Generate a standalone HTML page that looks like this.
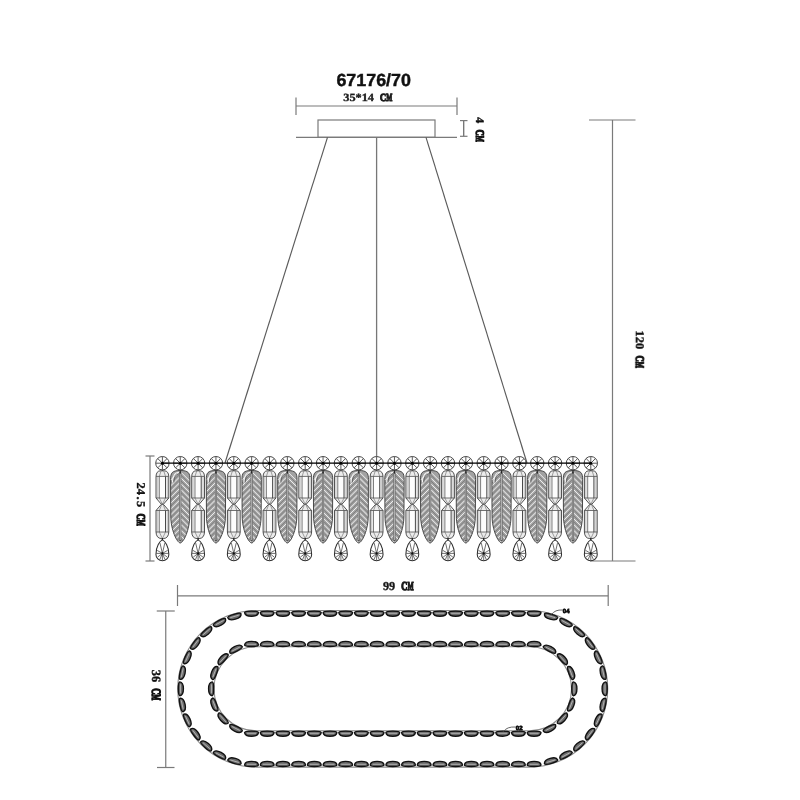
<!DOCTYPE html>
<html><head><meta charset="utf-8"><style>
html,body{margin:0;padding:0;background:#fff;}
body{width:800px;height:800px;overflow:hidden;}
svg{display:block;} text{text-rendering:geometricPrecision;} .tx{will-change:transform;}
</style></head><body>
<svg width="800" height="800" viewBox="0 0 800 800">
<line x1="296.00" y1="106.00" x2="457.00" y2="106.00" stroke="#7a7a7a" stroke-width="1.2"/>
<line x1="296.00" y1="97.50" x2="296.00" y2="115.00" stroke="#7a7a7a" stroke-width="1.2"/>
<line x1="457.00" y1="97.50" x2="457.00" y2="115.00" stroke="#7a7a7a" stroke-width="1.2"/>
<rect x="318" y="120" width="117" height="17.3" fill="none" stroke="#7a7a7a" stroke-width="1.2"/>
<line x1="296.00" y1="137.30" x2="457.00" y2="137.30" stroke="#7a7a7a" stroke-width="1.2"/>
<line x1="463.75" y1="120.60" x2="463.75" y2="136.30" stroke="#555" stroke-width="1.1"/>
<line x1="460.00" y1="120.60" x2="467.50" y2="120.60" stroke="#7a7a7a" stroke-width="1.2"/>
<line x1="460.00" y1="136.30" x2="467.50" y2="136.30" stroke="#7a7a7a" stroke-width="1.2"/>
<line x1="589.00" y1="120.00" x2="635.50" y2="120.00" stroke="#7a7a7a" stroke-width="1.2"/>
<line x1="590.00" y1="561.00" x2="635.50" y2="561.00" stroke="#7a7a7a" stroke-width="1.2"/>
<line x1="612.50" y1="120.00" x2="612.50" y2="561.00" stroke="#7a7a7a" stroke-width="1.2"/>
<line x1="327.50" y1="137.30" x2="225.00" y2="463.00" stroke="#5a5a5a" stroke-width="1.15"/>
<line x1="376.60" y1="137.30" x2="376.60" y2="463.00" stroke="#777" stroke-width="1.3"/>
<line x1="426.00" y1="137.30" x2="527.00" y2="463.00" stroke="#5a5a5a" stroke-width="1.15"/>
<line x1="150.00" y1="456.00" x2="150.00" y2="561.00" stroke="#7a7a7a" stroke-width="1.2"/>
<line x1="145.50" y1="456.00" x2="154.50" y2="456.00" stroke="#7a7a7a" stroke-width="1.2"/>
<line x1="145.50" y1="561.00" x2="154.50" y2="561.00" stroke="#7a7a7a" stroke-width="1.2"/>
<defs><g id="ros"><circle r="6.7" fill="#fff" stroke="#4a4a4a" stroke-width="1.0"/><path d="M0,0 L6.50,0.00 M0,0 L4.60,4.60 M0,0 L0.00,6.50 M0,0 L-4.60,4.60 M0,0 L-6.50,0.00 M0,0 L-4.60,-4.60 M0,0 L-0.00,-6.50 M0,0 L4.60,-4.60" stroke="#3a3a3a" stroke-width="0.85" fill="none"/><circle r="1.5" fill="#000"/></g><g id="pcol"><line x1="0" y1="0" x2="0" y2="9" stroke="#222" stroke-width="1"/><path d="M-2.2,7.600000000000023 L2.2,7.600000000000023 Q6.1000000000000005,7.900000000000023 6.4,13.199999999999989 L6.4,34.80000000000001 L1.0,41.10000000000002 L-1.0,41.10000000000002 L-6.4,34.80000000000001 L-6.4,13.199999999999989 Q-6.1000000000000005,7.900000000000023 -2.2,7.600000000000023 Z" fill="#ececec" stroke="#333" stroke-width="0.85" stroke-linejoin="round"/><rect x="-3.1" y="13.199999999999989" width="6.2" height="21.600000000000023" fill="#fdfdfd"/><line x1="-3.1" y1="13.199999999999989" x2="-3.1" y2="34.80000000000001" stroke="#555" stroke-width="0.75"/><line x1="3.1" y1="13.199999999999989" x2="3.1" y2="34.80000000000001" stroke="#2a2a2a" stroke-width="0.85"/><line x1="-5.0" y1="13.199999999999989" x2="-5.0" y2="34.80000000000001" stroke="#aaa" stroke-width="0.5"/><line x1="5.0" y1="13.199999999999989" x2="5.0" y2="34.80000000000001" stroke="#aaa" stroke-width="0.5"/><line x1="-6.4" y1="13.199999999999989" x2="6.4" y2="13.199999999999989" stroke="#444" stroke-width="0.75"/><line x1="-6.4" y1="34.80000000000001" x2="6.4" y2="34.80000000000001" stroke="#444" stroke-width="0.75"/><path d="M-3.1,13.199999999999989 L-1.32,7.600000000000023 M3.1,13.199999999999989 L1.32,7.600000000000023" fill="none" stroke="#666" stroke-width="0.6"/><path d="M-3.1,34.80000000000001 L0,41.10000000000002 L3.1,34.80000000000001" fill="none" stroke="#666" stroke-width="0.6"/><path d="M-1.0,41.10000000000002 L1.0,41.10000000000002 L6.4,47.30000000000001 L6.4,68.80000000000001 Q6.1000000000000005,75.10000000000004 1.0,75.40000000000003 L-1.0,75.40000000000003 Q-6.1000000000000005,75.10000000000004 -6.4,68.80000000000001 L-6.4,47.30000000000001 L-1.0,41.10000000000002 Z" fill="#ececec" stroke="#333" stroke-width="0.85" stroke-linejoin="round"/><rect x="-3.1" y="47.30000000000001" width="6.2" height="21.5" fill="#fdfdfd"/><line x1="-3.1" y1="47.30000000000001" x2="-3.1" y2="68.80000000000001" stroke="#555" stroke-width="0.75"/><line x1="3.1" y1="47.30000000000001" x2="3.1" y2="68.80000000000001" stroke="#2a2a2a" stroke-width="0.85"/><line x1="-5.0" y1="47.30000000000001" x2="-5.0" y2="68.80000000000001" stroke="#aaa" stroke-width="0.5"/><line x1="5.0" y1="47.30000000000001" x2="5.0" y2="68.80000000000001" stroke="#aaa" stroke-width="0.5"/><line x1="-6.4" y1="47.30000000000001" x2="6.4" y2="47.30000000000001" stroke="#444" stroke-width="0.75"/><line x1="-6.4" y1="68.80000000000001" x2="6.4" y2="68.80000000000001" stroke="#444" stroke-width="0.75"/><path d="M-3.1,47.30000000000001 L-0.6,41.10000000000002 M3.1,47.30000000000001 L0.6,41.10000000000002" fill="none" stroke="#666" stroke-width="0.6"/><path d="M-3.1,68.80000000000001 L0,75.40000000000003 L3.1,68.80000000000001" fill="none" stroke="#666" stroke-width="0.6"/><line x1="0" y1="74.80000000000001" x2="0" y2="78.30000000000001" stroke="#222" stroke-width="1.3"/><path d="M0,76.69999999999999 C2.5,77.89999999999999 6.45,83.19999999999999 6.45,91.19999999999999 A6.45,6.45 0 0 1 -6.45,91.19999999999999 C-6.45,83.19999999999999 -2.5,77.89999999999999 0,76.69999999999999 Z" fill="#fff" stroke="#2e2e2e" stroke-width="1.05"/><path d="M0,90.19999999999999 L6.00,90.20 M0,90.19999999999999 L4.91,93.99 M0,90.19999999999999 L2.54,96.18 M0,90.19999999999999 L0.00,96.80 M0,90.19999999999999 L-2.54,96.18 M0,90.19999999999999 L-4.91,93.99 M0,90.19999999999999 L-6.00,90.20 M0,90.19999999999999 L-5.20,87.20 M0,90.19999999999999 L5.20,87.20 M0,90.19999999999999 L-2.4,79.89999999999999 M0,90.19999999999999 L2.4,79.89999999999999" fill="none" stroke="#3e3e3e" stroke-width="0.75"/><circle cy="90.19999999999999" r="1.1" fill="#111"/></g><clipPath id="fclip"><path d="M0,7.300000000000011 C8.245,7.300000000000011 9.7,9.800000000000011 9.7,16.30000000000001 L9.5,52.80000000000001 C9.399999999999999,66.80000000000001 3.4,79.30000000000001 0,79.80000000000001 C-3.4,79.30000000000001 -9.399999999999999,66.80000000000001 -9.5,52.80000000000001 L-9.7,16.30000000000001 C-9.7,9.800000000000011 -8.245,7.300000000000011 0,7.300000000000011 Z"/></clipPath><g id="feat"><path d="M0,7.300000000000011 C8.245,7.300000000000011 9.7,9.800000000000011 9.7,16.30000000000001 L9.5,52.80000000000001 C9.399999999999999,66.80000000000001 3.4,79.30000000000001 0,79.80000000000001 C-3.4,79.30000000000001 -9.399999999999999,66.80000000000001 -9.5,52.80000000000001 L-9.7,16.30000000000001 C-9.7,9.800000000000011 -8.245,7.300000000000011 0,7.300000000000011 Z" fill="#a2a2a2"/><g clip-path="url(#fclip)"><line x1="-1" y1="8.30" x2="-11" y2="18.30" stroke="#f2f2f2" stroke-width="1.0"/><line x1="1" y1="9.30" x2="11" y2="19.30" stroke="#f2f2f2" stroke-width="1.0"/><line x1="-1" y1="11.20" x2="-11" y2="21.20" stroke="#5e5e5e" stroke-width="0.55"/><line x1="1" y1="12.20" x2="11" y2="22.20" stroke="#5e5e5e" stroke-width="0.55"/><line x1="-1" y1="14.10" x2="-11" y2="24.10" stroke="#f2f2f2" stroke-width="1.0"/><line x1="1" y1="15.10" x2="11" y2="25.10" stroke="#f2f2f2" stroke-width="1.0"/><line x1="-1" y1="17.00" x2="-11" y2="27.00" stroke="#5e5e5e" stroke-width="0.55"/><line x1="1" y1="18.00" x2="11" y2="28.00" stroke="#5e5e5e" stroke-width="0.55"/><line x1="-1" y1="19.90" x2="-11" y2="29.90" stroke="#f2f2f2" stroke-width="1.0"/><line x1="1" y1="20.90" x2="11" y2="30.90" stroke="#f2f2f2" stroke-width="1.0"/><line x1="-1" y1="22.80" x2="-11" y2="32.80" stroke="#5e5e5e" stroke-width="0.55"/><line x1="1" y1="23.80" x2="11" y2="33.80" stroke="#5e5e5e" stroke-width="0.55"/><line x1="-1" y1="25.70" x2="-11" y2="35.70" stroke="#f2f2f2" stroke-width="1.0"/><line x1="1" y1="26.70" x2="11" y2="36.70" stroke="#f2f2f2" stroke-width="1.0"/><line x1="-1" y1="28.60" x2="-11" y2="38.60" stroke="#5e5e5e" stroke-width="0.55"/><line x1="1" y1="29.60" x2="11" y2="39.60" stroke="#5e5e5e" stroke-width="0.55"/><line x1="-1" y1="31.50" x2="-11" y2="41.50" stroke="#f2f2f2" stroke-width="1.0"/><line x1="1" y1="32.50" x2="11" y2="42.50" stroke="#f2f2f2" stroke-width="1.0"/><line x1="-1" y1="34.40" x2="-11" y2="44.40" stroke="#5e5e5e" stroke-width="0.55"/><line x1="1" y1="35.40" x2="11" y2="45.40" stroke="#5e5e5e" stroke-width="0.55"/><line x1="-1" y1="37.30" x2="-11" y2="47.30" stroke="#f2f2f2" stroke-width="1.0"/><line x1="1" y1="38.30" x2="11" y2="48.30" stroke="#f2f2f2" stroke-width="1.0"/><line x1="-1" y1="40.20" x2="-11" y2="50.20" stroke="#5e5e5e" stroke-width="0.55"/><line x1="1" y1="41.20" x2="11" y2="51.20" stroke="#5e5e5e" stroke-width="0.55"/><line x1="-1" y1="43.10" x2="-11" y2="53.10" stroke="#f2f2f2" stroke-width="1.0"/><line x1="1" y1="44.10" x2="11" y2="54.10" stroke="#f2f2f2" stroke-width="1.0"/><line x1="-1" y1="46.00" x2="-11" y2="56.00" stroke="#5e5e5e" stroke-width="0.55"/><line x1="1" y1="47.00" x2="11" y2="57.00" stroke="#5e5e5e" stroke-width="0.55"/><line x1="-1" y1="48.90" x2="-11" y2="58.90" stroke="#f2f2f2" stroke-width="1.0"/><line x1="1" y1="49.90" x2="11" y2="59.90" stroke="#f2f2f2" stroke-width="1.0"/><line x1="-1" y1="51.80" x2="-11" y2="61.80" stroke="#5e5e5e" stroke-width="0.55"/><line x1="1" y1="52.80" x2="11" y2="62.80" stroke="#5e5e5e" stroke-width="0.55"/><line x1="-1" y1="54.70" x2="-11" y2="64.70" stroke="#f2f2f2" stroke-width="1.0"/><line x1="1" y1="55.70" x2="11" y2="65.70" stroke="#f2f2f2" stroke-width="1.0"/><line x1="-1" y1="57.60" x2="-11" y2="67.60" stroke="#5e5e5e" stroke-width="0.55"/><line x1="1" y1="58.60" x2="11" y2="68.60" stroke="#5e5e5e" stroke-width="0.55"/><line x1="-1" y1="60.50" x2="-11" y2="70.50" stroke="#f2f2f2" stroke-width="1.0"/><line x1="1" y1="61.50" x2="11" y2="71.50" stroke="#f2f2f2" stroke-width="1.0"/><line x1="-1" y1="63.40" x2="-11" y2="73.40" stroke="#5e5e5e" stroke-width="0.55"/><line x1="1" y1="64.40" x2="11" y2="74.40" stroke="#5e5e5e" stroke-width="0.55"/><line x1="-1" y1="66.30" x2="-11" y2="76.30" stroke="#f2f2f2" stroke-width="1.0"/><line x1="1" y1="67.30" x2="11" y2="77.30" stroke="#f2f2f2" stroke-width="1.0"/><line x1="-1" y1="69.20" x2="-11" y2="79.20" stroke="#5e5e5e" stroke-width="0.55"/><line x1="1" y1="70.20" x2="11" y2="80.20" stroke="#5e5e5e" stroke-width="0.55"/><line x1="-1" y1="72.10" x2="-11" y2="82.10" stroke="#f2f2f2" stroke-width="1.0"/><line x1="1" y1="73.10" x2="11" y2="83.10" stroke="#f2f2f2" stroke-width="1.0"/><line x1="-1" y1="75.00" x2="-11" y2="85.00" stroke="#5e5e5e" stroke-width="0.55"/><line x1="1" y1="76.00" x2="11" y2="86.00" stroke="#5e5e5e" stroke-width="0.55"/><line x1="-1" y1="77.90" x2="-11" y2="87.90" stroke="#f2f2f2" stroke-width="1.0"/><line x1="1" y1="78.90" x2="11" y2="88.90" stroke="#f2f2f2" stroke-width="1.0"/><line x1="-1" y1="80.80" x2="-11" y2="90.80" stroke="#5e5e5e" stroke-width="0.55"/><line x1="1" y1="81.80" x2="11" y2="91.80" stroke="#5e5e5e" stroke-width="0.55"/></g><path d="M-1.5,9.100000000000012 Q-7.5,9.100000000000012 -7.8,19.30000000000001" fill="none" stroke="#f4f4f4" stroke-width="1.1"/><path d="M-1.5,10.700000000000012 Q-6.2,10.900000000000011 -6.4,19.30000000000001" fill="none" stroke="#444" stroke-width="0.6"/><path d="M0,7.300000000000011 C8.245,7.300000000000011 9.7,9.800000000000011 9.7,16.30000000000001 L9.5,52.80000000000001 C9.399999999999999,66.80000000000001 3.4,79.30000000000001 0,79.80000000000001 C-3.4,79.30000000000001 -9.399999999999999,66.80000000000001 -9.5,52.80000000000001 L-9.7,16.30000000000001 C-9.7,9.800000000000011 -8.245,7.300000000000011 0,7.300000000000011 Z" fill="none" stroke="#3a3a3a" stroke-width="0.9"/><line x1="0" y1="8.300000000000011" x2="0" y2="77.80000000000001" stroke="#555" stroke-width="1.9"/><line x1="0" y1="10.300000000000011" x2="0" y2="76.80000000000001" stroke="#ddd" stroke-width="0.7"/><line x1="0" y1="0" x2="0" y2="10.300000000000011" stroke="#222" stroke-width="1"/></g></defs>
<use href="#pcol" x="162.40" y="463.2"/>
<use href="#feat" x="180.25" y="463.2"/>
<use href="#pcol" x="198.10" y="463.2"/>
<use href="#feat" x="215.95" y="463.2"/>
<use href="#pcol" x="233.80" y="463.2"/>
<use href="#feat" x="251.65" y="463.2"/>
<use href="#pcol" x="269.50" y="463.2"/>
<use href="#feat" x="287.35" y="463.2"/>
<use href="#pcol" x="305.20" y="463.2"/>
<use href="#feat" x="323.05" y="463.2"/>
<use href="#pcol" x="340.90" y="463.2"/>
<use href="#feat" x="358.75" y="463.2"/>
<use href="#pcol" x="376.60" y="463.2"/>
<use href="#feat" x="394.45" y="463.2"/>
<use href="#pcol" x="412.30" y="463.2"/>
<use href="#feat" x="430.15" y="463.2"/>
<use href="#pcol" x="448.00" y="463.2"/>
<use href="#feat" x="465.85" y="463.2"/>
<use href="#pcol" x="483.70" y="463.2"/>
<use href="#feat" x="501.55" y="463.2"/>
<use href="#pcol" x="519.40" y="463.2"/>
<use href="#feat" x="537.25" y="463.2"/>
<use href="#pcol" x="555.10" y="463.2"/>
<use href="#feat" x="572.95" y="463.2"/>
<use href="#pcol" x="590.80" y="463.2"/>
<use href="#ros" x="162.40" y="463.2"/>
<use href="#ros" x="180.25" y="463.2"/>
<use href="#ros" x="198.10" y="463.2"/>
<use href="#ros" x="215.95" y="463.2"/>
<use href="#ros" x="233.80" y="463.2"/>
<use href="#ros" x="251.65" y="463.2"/>
<use href="#ros" x="269.50" y="463.2"/>
<use href="#ros" x="287.35" y="463.2"/>
<use href="#ros" x="305.20" y="463.2"/>
<use href="#ros" x="323.05" y="463.2"/>
<use href="#ros" x="340.90" y="463.2"/>
<use href="#ros" x="358.75" y="463.2"/>
<use href="#ros" x="376.60" y="463.2"/>
<use href="#ros" x="394.45" y="463.2"/>
<use href="#ros" x="412.30" y="463.2"/>
<use href="#ros" x="430.15" y="463.2"/>
<use href="#ros" x="448.00" y="463.2"/>
<use href="#ros" x="465.85" y="463.2"/>
<use href="#ros" x="483.70" y="463.2"/>
<use href="#ros" x="501.55" y="463.2"/>
<use href="#ros" x="519.40" y="463.2"/>
<use href="#ros" x="537.25" y="463.2"/>
<use href="#ros" x="555.10" y="463.2"/>
<use href="#ros" x="572.95" y="463.2"/>
<use href="#ros" x="590.80" y="463.2"/>
<line x1="162.40" y1="463.20" x2="590.80" y2="463.20" stroke="#000" stroke-width="1.3"/>
<line x1="177.50" y1="595.80" x2="608.20" y2="595.80" stroke="#7a7a7a" stroke-width="1.2"/>
<line x1="177.50" y1="585.00" x2="177.50" y2="606.00" stroke="#7a7a7a" stroke-width="1.2"/>
<line x1="608.20" y1="585.00" x2="608.20" y2="606.00" stroke="#7a7a7a" stroke-width="1.2"/>
<line x1="165.75" y1="611.00" x2="165.75" y2="767.50" stroke="#7a7a7a" stroke-width="1.2"/>
<line x1="156.75" y1="611.00" x2="174.75" y2="611.00" stroke="#7a7a7a" stroke-width="1.2"/>
<line x1="157.00" y1="767.50" x2="174.50" y2="767.50" stroke="#7a7a7a" stroke-width="1.2"/>
<path d="M256.0,610.5 L529.5,610.5 A78.3,78.3 0 0 1 529.5,767.0999999999999 L256.0,767.0999999999999 A78.3,78.3 0 0 1 256.0,610.5 Z" fill="none" stroke="#8a8a8a" stroke-width="1.1"/>
<path d="M256.0,646.8 L529.5,646.8 A42.0,42.0 0 0 1 529.5,730.8 L256.0,730.8 A42.0,42.0 0 0 1 256.0,646.8 Z" fill="none" stroke="#8a8a8a" stroke-width="1.1"/>
<defs><g id="lnk"><path d="M-6.9,-1.0 C-6.8,-2.4 -4.6,-2.5 0,-2.5 C4.6,-2.5 6.8,-2.4 6.9,-1.0 C6.6,1.8 4,2.6 0,2.6 C-4,2.6 -6.6,1.8 -6.9,-1.0 Z" fill="#6a6a6a" stroke="#111" stroke-width="1.4"/><line x1="-4.5" y1="-0.3" x2="4.5" y2="-0.3" stroke="#c8c8c8" stroke-width="0.7"/></g></defs>
<use href="#lnk" transform="translate(251.50,613.60) rotate(0.00)"/>
<use href="#lnk" transform="translate(251.50,764.00) rotate(180.00)"/>
<use href="#lnk" transform="translate(267.20,613.60) rotate(0.00)"/>
<use href="#lnk" transform="translate(267.20,764.00) rotate(180.00)"/>
<use href="#lnk" transform="translate(282.90,613.60) rotate(0.00)"/>
<use href="#lnk" transform="translate(282.90,764.00) rotate(180.00)"/>
<use href="#lnk" transform="translate(298.60,613.60) rotate(0.00)"/>
<use href="#lnk" transform="translate(298.60,764.00) rotate(180.00)"/>
<use href="#lnk" transform="translate(314.30,613.60) rotate(0.00)"/>
<use href="#lnk" transform="translate(314.30,764.00) rotate(180.00)"/>
<use href="#lnk" transform="translate(330.00,613.60) rotate(0.00)"/>
<use href="#lnk" transform="translate(330.00,764.00) rotate(180.00)"/>
<use href="#lnk" transform="translate(345.70,613.60) rotate(0.00)"/>
<use href="#lnk" transform="translate(345.70,764.00) rotate(180.00)"/>
<use href="#lnk" transform="translate(361.40,613.60) rotate(0.00)"/>
<use href="#lnk" transform="translate(361.40,764.00) rotate(180.00)"/>
<use href="#lnk" transform="translate(377.10,613.60) rotate(0.00)"/>
<use href="#lnk" transform="translate(377.10,764.00) rotate(180.00)"/>
<use href="#lnk" transform="translate(392.80,613.60) rotate(0.00)"/>
<use href="#lnk" transform="translate(392.80,764.00) rotate(180.00)"/>
<use href="#lnk" transform="translate(408.50,613.60) rotate(0.00)"/>
<use href="#lnk" transform="translate(408.50,764.00) rotate(180.00)"/>
<use href="#lnk" transform="translate(424.20,613.60) rotate(0.00)"/>
<use href="#lnk" transform="translate(424.20,764.00) rotate(180.00)"/>
<use href="#lnk" transform="translate(439.90,613.60) rotate(0.00)"/>
<use href="#lnk" transform="translate(439.90,764.00) rotate(180.00)"/>
<use href="#lnk" transform="translate(455.60,613.60) rotate(0.00)"/>
<use href="#lnk" transform="translate(455.60,764.00) rotate(180.00)"/>
<use href="#lnk" transform="translate(471.30,613.60) rotate(0.00)"/>
<use href="#lnk" transform="translate(471.30,764.00) rotate(180.00)"/>
<use href="#lnk" transform="translate(487.00,613.60) rotate(0.00)"/>
<use href="#lnk" transform="translate(487.00,764.00) rotate(180.00)"/>
<use href="#lnk" transform="translate(502.70,613.60) rotate(0.00)"/>
<use href="#lnk" transform="translate(502.70,764.00) rotate(180.00)"/>
<use href="#lnk" transform="translate(518.40,613.60) rotate(0.00)"/>
<use href="#lnk" transform="translate(518.40,764.00) rotate(180.00)"/>
<use href="#lnk" transform="translate(534.10,613.60) rotate(0.00)"/>
<use href="#lnk" transform="translate(534.10,764.00) rotate(180.00)"/>
<use href="#lnk" transform="translate(234.64,616.70) rotate(-16.50)"/>
<use href="#lnk" transform="translate(550.86,616.70) rotate(16.50)"/>
<use href="#lnk" transform="translate(219.83,622.87) rotate(-28.75)"/>
<use href="#lnk" transform="translate(565.67,622.87) rotate(28.75)"/>
<use href="#lnk" transform="translate(206.66,632.05) rotate(-41.00)"/>
<use href="#lnk" transform="translate(578.84,632.05) rotate(41.00)"/>
<use href="#lnk" transform="translate(195.75,643.81) rotate(-53.25)"/>
<use href="#lnk" transform="translate(589.75,643.81) rotate(53.25)"/>
<use href="#lnk" transform="translate(187.57,657.62) rotate(-65.50)"/>
<use href="#lnk" transform="translate(597.93,657.62) rotate(65.50)"/>
<use href="#lnk" transform="translate(182.51,672.84) rotate(-77.75)"/>
<use href="#lnk" transform="translate(602.99,672.84) rotate(77.75)"/>
<use href="#lnk" transform="translate(180.80,688.80) rotate(-90.00)"/>
<use href="#lnk" transform="translate(604.70,688.80) rotate(90.00)"/>
<use href="#lnk" transform="translate(182.51,704.76) rotate(-102.25)"/>
<use href="#lnk" transform="translate(602.99,704.76) rotate(102.25)"/>
<use href="#lnk" transform="translate(187.57,719.98) rotate(-114.50)"/>
<use href="#lnk" transform="translate(597.93,719.98) rotate(114.50)"/>
<use href="#lnk" transform="translate(195.75,733.79) rotate(-126.75)"/>
<use href="#lnk" transform="translate(589.75,733.79) rotate(126.75)"/>
<use href="#lnk" transform="translate(206.66,745.55) rotate(-139.00)"/>
<use href="#lnk" transform="translate(578.84,745.55) rotate(139.00)"/>
<use href="#lnk" transform="translate(219.83,754.73) rotate(-151.25)"/>
<use href="#lnk" transform="translate(565.67,754.73) rotate(151.25)"/>
<use href="#lnk" transform="translate(234.64,760.90) rotate(-163.50)"/>
<use href="#lnk" transform="translate(550.86,760.90) rotate(163.50)"/>
<use href="#lnk" transform="translate(251.50,644.00) rotate(180.00)"/>
<use href="#lnk" transform="translate(251.50,733.60) rotate(0.00)"/>
<use href="#lnk" transform="translate(267.20,644.00) rotate(180.00)"/>
<use href="#lnk" transform="translate(267.20,733.60) rotate(0.00)"/>
<use href="#lnk" transform="translate(282.90,644.00) rotate(180.00)"/>
<use href="#lnk" transform="translate(282.90,733.60) rotate(0.00)"/>
<use href="#lnk" transform="translate(298.60,644.00) rotate(180.00)"/>
<use href="#lnk" transform="translate(298.60,733.60) rotate(0.00)"/>
<use href="#lnk" transform="translate(314.30,644.00) rotate(180.00)"/>
<use href="#lnk" transform="translate(314.30,733.60) rotate(0.00)"/>
<use href="#lnk" transform="translate(330.00,644.00) rotate(180.00)"/>
<use href="#lnk" transform="translate(330.00,733.60) rotate(0.00)"/>
<use href="#lnk" transform="translate(345.70,644.00) rotate(180.00)"/>
<use href="#lnk" transform="translate(345.70,733.60) rotate(0.00)"/>
<use href="#lnk" transform="translate(361.40,644.00) rotate(180.00)"/>
<use href="#lnk" transform="translate(361.40,733.60) rotate(0.00)"/>
<use href="#lnk" transform="translate(377.10,644.00) rotate(180.00)"/>
<use href="#lnk" transform="translate(377.10,733.60) rotate(0.00)"/>
<use href="#lnk" transform="translate(392.80,644.00) rotate(180.00)"/>
<use href="#lnk" transform="translate(392.80,733.60) rotate(0.00)"/>
<use href="#lnk" transform="translate(408.50,644.00) rotate(180.00)"/>
<use href="#lnk" transform="translate(408.50,733.60) rotate(0.00)"/>
<use href="#lnk" transform="translate(424.20,644.00) rotate(180.00)"/>
<use href="#lnk" transform="translate(424.20,733.60) rotate(0.00)"/>
<use href="#lnk" transform="translate(439.90,644.00) rotate(180.00)"/>
<use href="#lnk" transform="translate(439.90,733.60) rotate(0.00)"/>
<use href="#lnk" transform="translate(455.60,644.00) rotate(180.00)"/>
<use href="#lnk" transform="translate(455.60,733.60) rotate(0.00)"/>
<use href="#lnk" transform="translate(471.30,644.00) rotate(180.00)"/>
<use href="#lnk" transform="translate(471.30,733.60) rotate(0.00)"/>
<use href="#lnk" transform="translate(487.00,644.00) rotate(180.00)"/>
<use href="#lnk" transform="translate(487.00,733.60) rotate(0.00)"/>
<use href="#lnk" transform="translate(502.70,644.00) rotate(180.00)"/>
<use href="#lnk" transform="translate(502.70,733.60) rotate(0.00)"/>
<use href="#lnk" transform="translate(518.40,644.00) rotate(180.00)"/>
<use href="#lnk" transform="translate(518.40,733.60) rotate(0.00)"/>
<use href="#lnk" transform="translate(534.10,644.00) rotate(180.00)"/>
<use href="#lnk" transform="translate(534.10,733.60) rotate(0.00)"/>
<use href="#lnk" transform="translate(235.66,648.88) rotate(153.00)"/>
<use href="#lnk" transform="translate(549.84,648.88) rotate(207.00)"/>
<use href="#lnk" transform="translate(222.71,658.82) rotate(132.00)"/>
<use href="#lnk" transform="translate(562.79,658.82) rotate(228.00)"/>
<use href="#lnk" transform="translate(214.18,672.75) rotate(111.00)"/>
<use href="#lnk" transform="translate(571.32,672.75) rotate(249.00)"/>
<use href="#lnk" transform="translate(211.20,688.80) rotate(90.00)"/>
<use href="#lnk" transform="translate(574.30,688.80) rotate(270.00)"/>
<use href="#lnk" transform="translate(214.18,704.85) rotate(69.00)"/>
<use href="#lnk" transform="translate(571.32,704.85) rotate(291.00)"/>
<use href="#lnk" transform="translate(222.71,718.78) rotate(48.00)"/>
<use href="#lnk" transform="translate(562.79,718.78) rotate(312.00)"/>
<use href="#lnk" transform="translate(235.66,728.72) rotate(27.00)"/>
<use href="#lnk" transform="translate(549.84,728.72) rotate(333.00)"/>
<path d="M551.5,614.5 Q555,609.5 562.5,610" fill="none" stroke="#555" stroke-width="0.9"/>
<path d="M503.5,731.5 Q507,726.5 515.5,727" fill="none" stroke="#555" stroke-width="0.9"/>
<defs><filter id="nf" x="0" y="0" width="800" height="800" filterUnits="userSpaceOnUse"><feOffset dx="0" dy="0"/></filter></defs>
<g filter="url(#nf)"><text transform="translate(562.8,613.3) scale(1.001)" font-family="Liberation Sans" font-weight="bold" font-size="6" fill="#111" stroke="#111" stroke-width="0.8">04</text><text transform="translate(515.8,729.8) scale(1.001)" font-family="Liberation Sans" font-weight="bold" font-size="6" fill="#111" stroke="#111" stroke-width="0.8">02</text><g transform="translate(336.392,85.874) scale(0.17876,0.17532)"><g font-family="Liberation Sans" font-weight="bold" font-size="100" fill="#111" stroke="#111" stroke-width="2.5"><text x="0" y="0">67176/70</text></g></g><g transform="translate(343.255,100.945) scale(0.12256,0.10909)"><g font-family="Liberation Serif" font-weight="bold" font-size="100" fill="#1a1a1a" stroke="#1a1a1a" stroke-width="3"><text x="0" y="0">3</text><text x="50" y="0">5</text><text x="100" y="0">*</text><text x="150" y="0">1</text><text x="200" y="0">4</text><text x="300" y="0" textLength="50" lengthAdjust="spacingAndGlyphs" stroke-width="10.8">C</text><text x="350" y="0" textLength="50" lengthAdjust="spacingAndGlyphs" stroke-width="10.8">M</text></g></g><g transform="translate(382.977,589.871) scale(0.12260,0.12143)"><g font-family="Liberation Serif" font-weight="bold" font-size="100" fill="#1a1a1a" stroke="#1a1a1a" stroke-width="3"><text x="0" y="0">9</text><text x="50" y="0">9</text><text x="150" y="0" textLength="50" lengthAdjust="spacingAndGlyphs" stroke-width="10.8">C</text><text x="200" y="0" textLength="50" lengthAdjust="spacingAndGlyphs" stroke-width="10.8">M</text></g></g><g transform="translate(475.701,117.000) rotate(90) scale(0.12438,0.11688)"><g font-family="Liberation Serif" font-weight="bold" font-size="100" fill="#111" stroke="#111" stroke-width="3"><text x="0" y="0">4</text><text x="100" y="0" textLength="50" lengthAdjust="spacingAndGlyphs" stroke-width="10.8">C</text><text x="150" y="0" textLength="50" lengthAdjust="spacingAndGlyphs" stroke-width="10.8">M</text></g></g><g transform="translate(636.201,330.375) rotate(90) scale(0.12500,0.11688)"><g font-family="Liberation Serif" font-weight="bold" font-size="100" fill="#111" stroke="#111" stroke-width="3"><text x="0" y="0">1</text><text x="50" y="0">2</text><text x="100" y="0">0</text><text x="200" y="0" textLength="50" lengthAdjust="spacingAndGlyphs" stroke-width="10.8">C</text><text x="250" y="0" textLength="50" lengthAdjust="spacingAndGlyphs" stroke-width="10.8">M</text></g></g><g transform="translate(137.117,482.528) rotate(90) scale(0.12385,0.11948)"><g font-family="Liberation Serif" font-weight="bold" font-size="100" fill="#111" stroke="#111" stroke-width="3"><text x="0" y="0">2</text><text x="50" y="0">4</text><text x="125.0" y="0" text-anchor="middle">.</text><text x="150" y="0">5</text><text x="250" y="0" textLength="50" lengthAdjust="spacingAndGlyphs" stroke-width="10.8">C</text><text x="300" y="0" textLength="50" lengthAdjust="spacingAndGlyphs" stroke-width="10.8">M</text></g></g><g transform="translate(152.010,669.754) rotate(90) scale(0.12289,0.12662)"><g font-family="Liberation Serif" font-weight="bold" font-size="100" fill="#111" stroke="#111" stroke-width="3"><text x="0" y="0">3</text><text x="50" y="0">6</text><text x="150" y="0" textLength="50" lengthAdjust="spacingAndGlyphs" stroke-width="10.8">C</text><text x="200" y="0" textLength="50" lengthAdjust="spacingAndGlyphs" stroke-width="10.8">M</text></g></g></g>
</svg>
</body></html>
